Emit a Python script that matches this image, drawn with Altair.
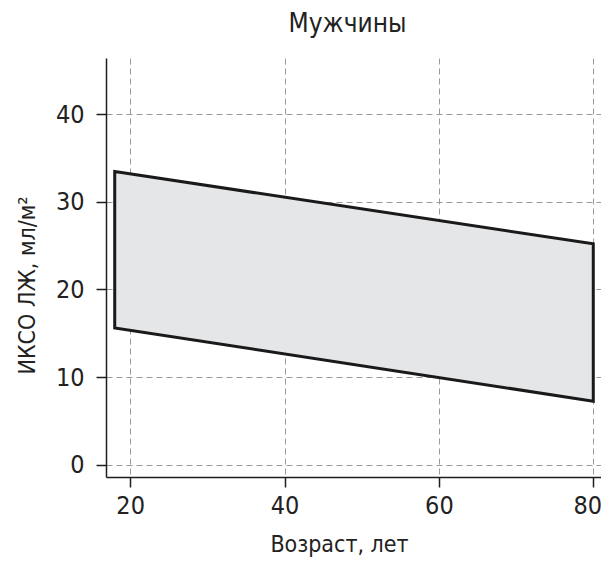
import altair as alt
import pandas as pd

# Data
age = [18, 80]
lower = [15.6, 7.25]
upper = [33.45, 25.2]

x_ticks = [20, 40, 60, 80]
y_ticks = [0, 10, 20, 30, 40]

df = pd.DataFrame({"age": age, "lower": lower, "upper": upper})

FONT = "Liberation Sans Narrow, DejaVu Sans Condensed, sans-serif"

chart = alt.Chart(df).mark_area(
    fill="#e5e6e8",
    stroke="#1a1a1a",
    strokeWidth=3,
    strokeJoin="miter",
    opacity=1,
).encode(
    x=alt.X(
        "age:Q",
        scale=alt.Scale(domain=[16.87, 81.0], nice=False, zero=False),
        axis=alt.Axis(
            values=x_ticks,
            title="Возраст, лет",
            titleFontSize=23,
            titleX=233,
            titleY=74,
            titleBaseline="alphabetic",
            titleAlign="center",
            labelPadding=6,
            labelOffset={"condition": {"test": "datum.value === 80", "value": -6}, "value": 0},
        ),
    ),
    y=alt.Y(
        "upper:Q",
        scale=alt.Scale(domain=[-1.4, 46.4], nice=False, zero=False),
        axis=alt.Axis(
            values=y_ticks,
            title="ИКСО ЛЖ, мл/м²",
            titleFontSize=23,
            titleX=-72,
            titleY=227,
            titleBaseline="alphabetic",
            titleAlign="center",
            titleAngle=270,
            labelPadding=12,
        ),
    ),
    y2="lower:Q",
).properties(
    width=495,
    height=419,
    title=alt.TitleParams("Мужчины", fontSize=26, font=FONT, fontWeight="normal",
                          color="#222", offset=21, dx=-6),
    autosize=alt.AutoSizeParams(type="none"),
    padding={"left": 98, "top": 50, "right": 0, "bottom": 80},
    background="white",
).configure_axis(
    labelFont=FONT,
    titleFont=FONT,
    labelFontSize=25,
    titleFontWeight="normal",
    labelColor="#222",
    titleColor="#222",
    domainColor="#1e1e1e",
    domainWidth=1.5,
    tickColor="#1e1e1e",
    tickWidth=1.5,
    tickSize=10,
    grid=True,
    gridColor="#9a9a9a",
    gridDash=[6, 4],
    gridWidth=1,
).configure_view(
    stroke=None,
)

chart.save("out.html", embed_options={"renderer": "svg", "actions": False})
